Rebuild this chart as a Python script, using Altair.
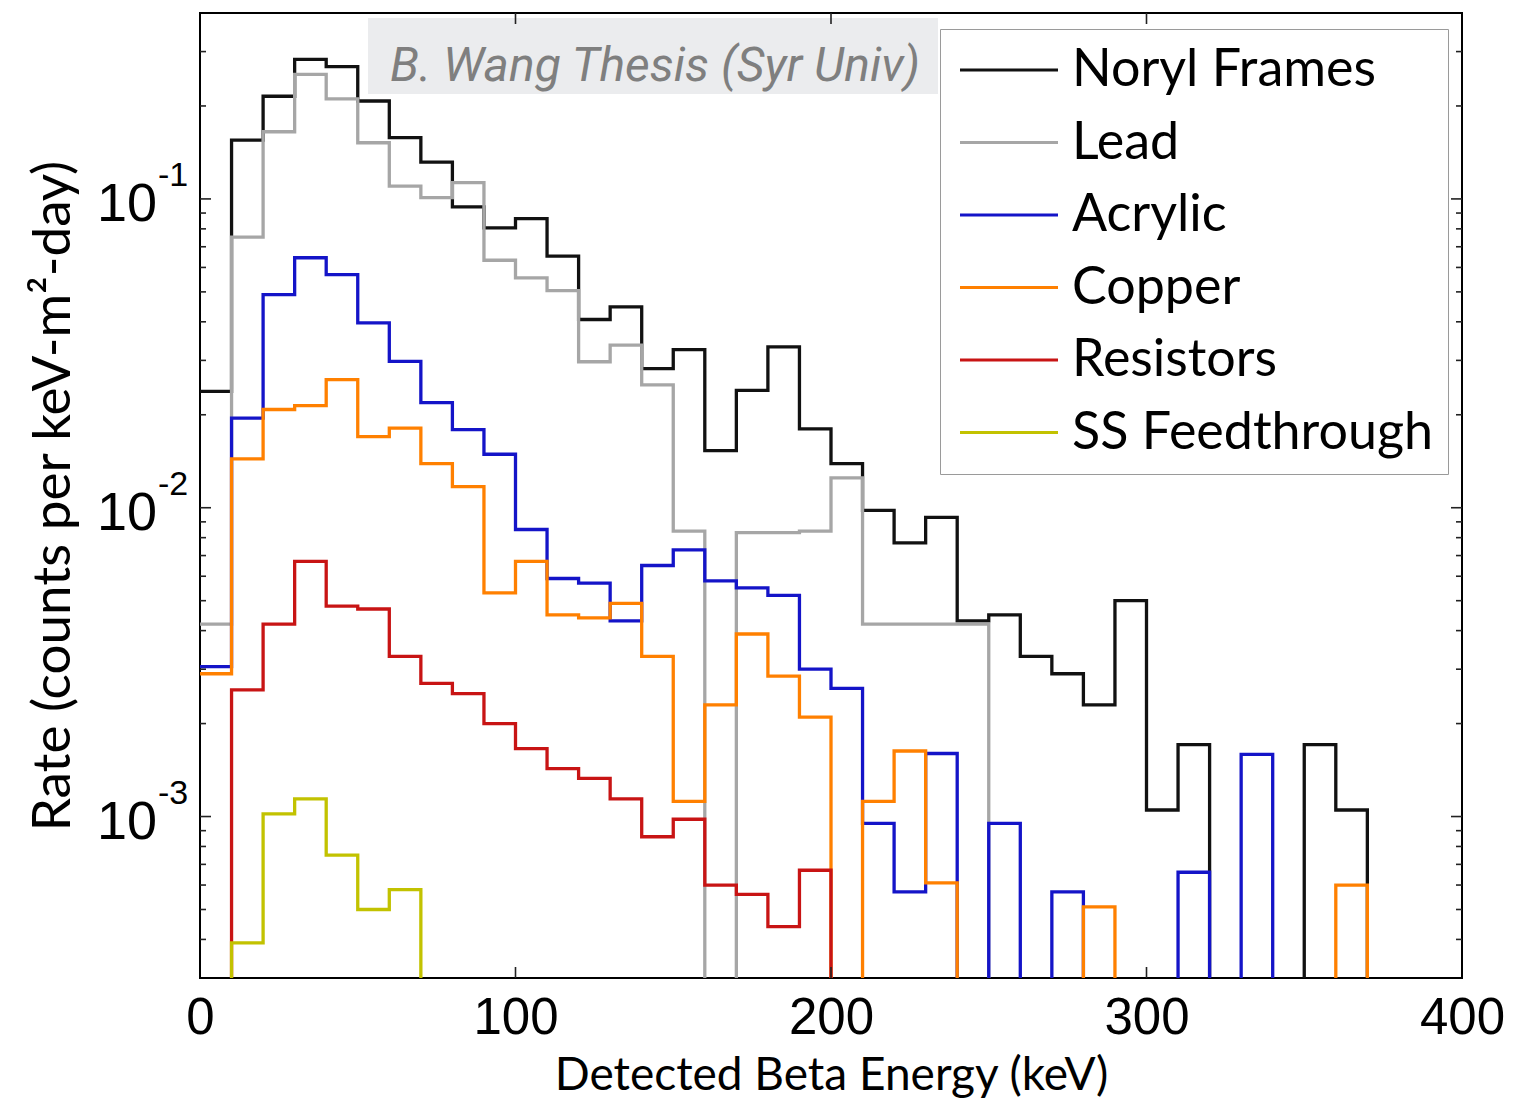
import altair as alt
import pandas as pd

# ---------------- data ----------------
SERIES = ["Noryl Frames", "Lead", "Acrylic", "Copper", "Resistors", "SS Feedthrough"]
COLORS = ["#111111", "#a6a6a6", "#1414c8", "#ff8000", "#c81414", "#c2c200"]

# left edges of the 10 keV energy bins (0-10, 10-20, ..., 360-370)
BIN_LEFT = [0, 10, 20, 30, 40, 50, 60, 70, 80, 90, 100, 110, 120, 130, 140, 150, 160, 170,
            180, 190, 200, 210, 220, 230, 240, 250, 260, 270, 280, 290, 300, 310, 320, 330,
            340, 350, 360]
BIN_END = 370

NORYL = [0.0238, 0.155, 0.215, 0.283, 0.268, 0.2075, 0.158, 0.1316, 0.0943, 0.0806,
         0.0863, 0.0653, 0.0407, 0.0447, 0.0282, 0.0325, 0.0153, 0.024, 0.0332, 0.018,
         0.0139, 0.0098, 0.0077, 0.0093, 0.0043, 0.0045, 0.0033, 0.0029, 0.0023, 0.0050,
         0.00105, 0.00171, 0, 0, 0, 0.00171, 0.00105]
LEAD = [0.0042, 0.0752, 0.165, 0.253, 0.211, 0.152, 0.110, 0.101, 0.113, 0.0633,
        0.0555, 0.0505, 0.0297, 0.0336, 0.0250, 0.0084, 0, 0.0083, 0.0083, 0.0084,
        0.0125, 0.0042, 0.0042, 0.0042, 0.0042, 0, 0, 0, 0, 0,
        0, 0, 0, 0, 0, 0, 0]
ACRYLIC = [0.00306, 0.0195, 0.049, 0.0645, 0.0569, 0.0397, 0.0298, 0.0219, 0.0179, 0.0149,
           0.0085, 0.0059, 0.0057, 0.0043, 0.0065, 0.0073, 0.0058, 0.0055, 0.0052, 0.0030,
           0.0026, 0.00095, 0.00057, 0.0016, 0, 0.00095, 0, 0.00057, 0, 0,
           0, 0.00066, 0, 0.00159, 0, 0, 0]
COPPER = [0.0029, 0.0144, 0.0208, 0.0214, 0.026, 0.0170, 0.0181, 0.0139, 0.0117, 0.0053,
          0.0067, 0.0045, 0.0044, 0.0049, 0.0033, 0.00112, 0.0023, 0.0039, 0.00285, 0.0021,
          0, 0.00112, 0.00163, 0.00061, 0, 0, 0, 0, 0.00051, 0,
          0, 0, 0, 0, 0, 0, 0.0006]
RESISTORS = [0, 0.00257, 0.0042, 0.0067, 0.0048, 0.0047, 0.0033, 0.0027, 0.0025, 0.0020,
             0.00166, 0.00143, 0.00133, 0.00114, 0.00086, 0.00098, 0.00060, 0.00056, 0.00044, 0.00067,
             0, 0, 0, 0, 0, 0, 0, 0, 0, 0,
             0, 0, 0, 0, 0, 0, 0]
SS_FEED = [0, 0.00039, 0.00102, 0.00114, 0.00075, 0.00050, 0.00058, 0, 0, 0,
           0, 0, 0, 0, 0, 0, 0, 0, 0, 0,
           0, 0, 0, 0, 0, 0, 0, 0, 0, 0,
           0, 0, 0, 0, 0, 0, 0]

X_TICKS = [0, 100, 200, 300, 400]
Y_MAJOR = [1e-3, 1e-2, 1e-1]
Y_EXP = ["-3", "-2", "-1"]
Y_MINOR = [4e-4, 5e-4, 6e-4, 7e-4, 8e-4, 9e-4,
           2e-3, 3e-3, 4e-3, 5e-3, 6e-3, 7e-3, 8e-3, 9e-3,
           2e-2, 3e-2, 4e-2, 5e-2, 6e-2, 7e-2, 8e-2, 9e-2,
           0.2, 0.3]
WATERMARK = "B. Wang Thesis (Syr Univ)"

# ---------------- layout ----------------
W, H = 1262, 965
FLOOR = 1e-6  # empty bins drop below the axis (clipped)

rows = []
for name, vals in zip(SERIES, [NORYL, LEAD, ACRYLIC, COPPER, RESISTORS, SS_FEED]):
    for x, v in zip(BIN_LEFT, vals):
        rows.append({"series": name, "energy": x, "rate": v if v > 0 else FLOOR})
    rows.append({"series": name, "energy": BIN_END, "rate": FLOOR})
df = pd.DataFrame(rows)

xscale = alt.Scale(domain=[0, 400], nice=False, zero=False)
yscale = alt.Scale(type="log", domain=[3.0e-4, 0.40], nice=False)

X_AX = alt.Axis(values=X_TICKS, format="d", labelFont="Liberation Sans",
                labelFontSize=51, labelColor="#000", labelPadding=15,
                labelFlush=False, labelOverlap=False, ticks=False, domain=False,
                grid=False, title="Detected Beta Energy (keV)", titleFont="Lato",
                titleFontSize=46, titleFontWeight="normal", titleColor="#000",
                titleBaseline="alphabetic", titleY=111)
Y_AX = alt.Axis(labels=False, ticks=False, domain=False, grid=False,
                title="Rate (counts per keV-m\u00b2-day)", titleFont="Lato",
                titleFontSize=53, titleFontWeight="normal", titleColor="#000",
                titlePadding=120)

lines = alt.Chart(df).mark_line(
    interpolate="step-after", strokeWidth=3.3, clip=True, strokeJoin="miter", strokeCap="butt"
).encode(
    x=alt.X("energy:Q", scale=xscale, axis=X_AX),
    y=alt.Y("rate:Q", scale=yscale, axis=Y_AX),
    color=alt.Color("series:N", scale=alt.Scale(domain=SERIES, range=COLORS),
                    legend=alt.Legend(title=None, orient="none", legendX=740, legendY=16,
                                      direction="vertical", symbolType="M-2,0H2",
                                      symbolSize=2401, symbolStrokeWidth=3, symbolOffset=28,
                                      labelOffset=37, labelFont="Lato", labelFontSize=52,
                                      labelColor="#000", labelLimit=800, rowPadding=20.5,
                                      padding=15, strokeColor="#9a9a9a", fillColor="#ffffff",
                                      cornerRadius=0)),
)

# watermark box
wm = pd.DataFrame({"t": [WATERMARK]})
wm_box = alt.Chart(wm).mark_rect(fill="#ebecee").encode(
    x=alt.value(168), x2=alt.value(738), y=alt.value(5), y2=alt.value(81))
wm_text = alt.Chart(wm).mark_text(
    font="Roboto", fontStyle="italic", fontWeight=400, fontSize=48, color="#7f7f7f",
    align="left", baseline="alphabetic").encode(
    x=alt.value(190), y=alt.value(68), text="t:N")

# inward ticks
def yticks(vals, length, side):
    d = pd.DataFrame({"v": vals})
    if side == "left":
        x1, x2 = 0, length
    else:
        x1, x2 = W, W - length
    return alt.Chart(d).mark_rule(color="#222", strokeWidth=1.6).encode(
        y=alt.Y("v:Q", scale=yscale, axis=Y_AX), x=alt.value(x1), x2=alt.value(x2))

def xticks(vals, length, side):
    d = pd.DataFrame({"v": vals})
    if side == "bottom":
        y1, y2 = H, H - length
    else:
        y1, y2 = 0, length
    return alt.Chart(d).mark_rule(color="#222", strokeWidth=1.6).encode(
        x=alt.X("v:Q", scale=xscale, axis=X_AX), y=alt.value(y1), y2=alt.value(y2))

ticks = [yticks(Y_MAJOR, 11, "left"), yticks(Y_MINOR, 6, "left"),
         yticks(Y_MAJOR, 11, "right"), yticks(Y_MINOR, 6, "right"),
         xticks(X_TICKS[1:-1], 11, "bottom"), xticks(X_TICKS[1:-1], 11, "top")]

# y tick labels 10^n
ylab = pd.DataFrame({"v": Y_MAJOR, "base": ["10"] * len(Y_MAJOR), "exp": Y_EXP})
ybase = alt.Chart(ylab).mark_text(
    font="Liberation Sans", fontSize=54, color="#000", align="right",
    baseline="alphabetic", dy=22).encode(
    y=alt.Y("v:Q", scale=yscale, axis=Y_AX), x=alt.value(-43), text="base:N")
yexp = alt.Chart(ylab).mark_text(
    font="Liberation Sans", fontSize=34, color="#000", align="left",
    baseline="alphabetic", dy=-13).encode(
    y=alt.Y("v:Q", scale=yscale, axis=Y_AX), x=alt.value(-42), text="exp:N")

chart = alt.layer(lines, wm_box, wm_text, *ticks, ybase, yexp).properties(
    width=W, height=H,
    autosize=alt.AutoSizeParams(type="none"),
    padding={"left": 192, "top": 5, "right": 43, "bottom": 121},
    background="#ffffff",
).configure_view(stroke="#000000", strokeWidth=2)

chart.save("out.html", embed_options={"renderer": "svg", "actions": False})
